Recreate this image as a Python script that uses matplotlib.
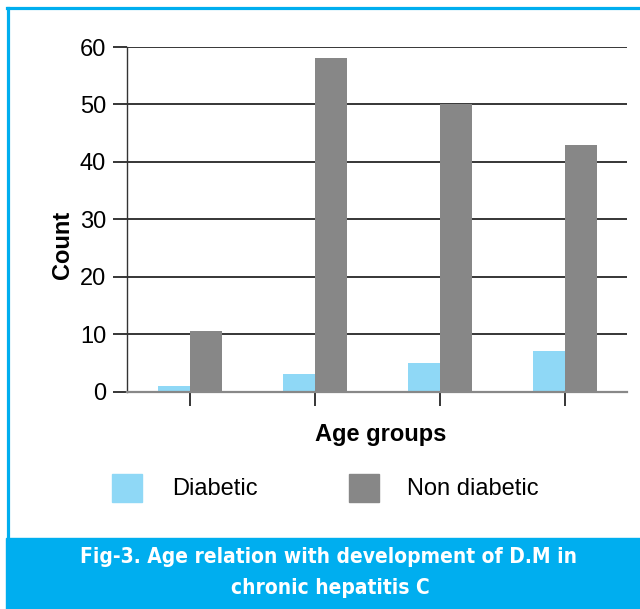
import numpy as np
import matplotlib
matplotlib.use("Agg")
import matplotlib.pyplot as plt
from matplotlib.patches import Rectangle
from matplotlib.lines import Line2D

# data
groups = ["G1", "G2", "G3", "G4"]
diabetic = [1, 3, 5, 7]
non_diabetic = [10.5, 58, 50, 43]
series_names = ["Diabetic", "Non diabetic"]
yticks = [0, 10, 20, 30, 40, 50, 60]

light_blue = "#8fd8f6"
grey = "#878787"
frame_blue = "#00aeef"

W, H = 640, 609
fig = plt.figure(figsize=(W / 100, H / 100), dpi=100)
fig.patch.set_facecolor("white")

ax = fig.add_axes([127 / W, 1 - 391.5 / H, 500 / W, 344.5 / H])
x = np.arange(len(groups))
bw = 0.256
ax.bar(x - bw, diabetic, bw, align="edge", color=light_blue, zorder=3)
ax.bar(x, non_diabetic, bw, align="edge", color=grey, zorder=3)

ax.set_xlim(-0.5, len(groups) - 0.5)
ax.set_ylim(0, 60)
ax.set_yticks(yticks)
ax.set_yticklabels([str(v) for v in yticks], fontsize=17, family="Liberation Sans")
ax.yaxis.grid(True, color="black", lw=1.1, zorder=1)
ax.tick_params(axis="y", length=10, width=1.1, color="black", pad=5)
ax.set_xticks(x)
ax.set_xticklabels([])
ax.tick_params(axis="x", length=10, width=1.1, color="black")

for s in ["top", "right"]:
    ax.spines[s].set_visible(False)
ax.spines["left"].set_color("#333333")
ax.spines["left"].set_linewidth(1.0)
ax.spines["bottom"].set_color("#888888")
ax.spines["bottom"].set_linewidth(1.6)
ax.spines["bottom"].set_zorder(4)

fig.text(62 / W, 1 - 245 / H, "Count", rotation=90, ha="center", va="center",
         fontsize=17, fontweight="bold", family="Liberation Sans")
fig.text(381 / W, 1 - 435 / H, "Age groups", ha="center", va="center",
         fontsize=17, fontweight="bold", family="Liberation Sans")

# legend drawn by hand
for (px, tx), name, c in zip([(112, 172), (349, 407)], series_names, [light_blue, grey]):
    fig.add_artist(Rectangle((px / W, 1 - 502 / H), 30 / W, 28 / H,
                             transform=fig.transFigure, color=c))
    fig.text(tx / W, 1 - 489 / H, name, ha="left", va="center",
             fontsize=17, family="Liberation Sans")

# blue frame and caption band
fig.add_artist(Line2D([8 / W, 8 / W], [1 - 538 / H, 1 - 8 / H],
                      transform=fig.transFigure, color=frame_blue, lw=2.3))
fig.add_artist(Line2D([7 / W, 1], [1 - 8 / H, 1 - 8 / H],
                      transform=fig.transFigure, color=frame_blue, lw=2.3))
fig.add_artist(Rectangle((6 / W, 0), 1 - 6 / W, 71 / H,
                         transform=fig.transFigure, color=frame_blue))
cap_font = dict(ha="center", va="center", color="white", fontsize=15,
                fontweight="bold", family="DejaVu Sans", fontstretch="condensed")
fig.text(329 / W, 1 - 557 / H, "Fig-3. Age relation with development of D.M in", **cap_font)
fig.text(330 / W, 1 - 588 / H, "chronic hepatitis C", **cap_font)

fig.savefig("out.png", dpi=100)
